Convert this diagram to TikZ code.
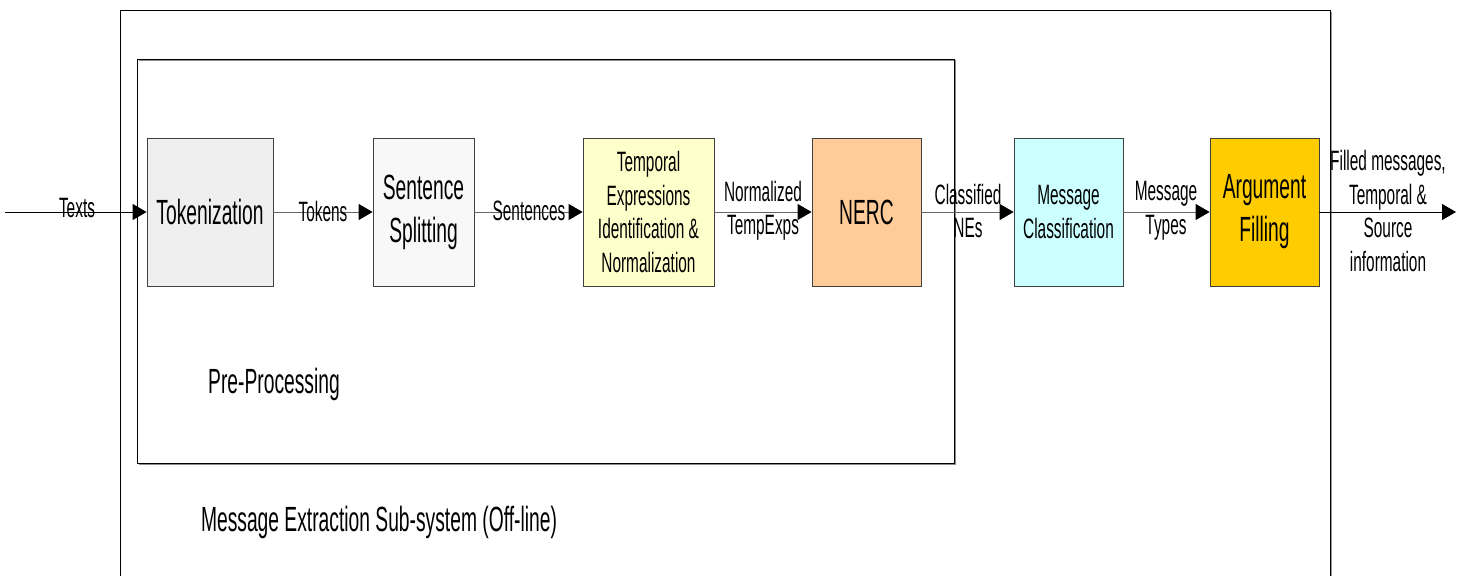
\documentclass[tikz,border=0pt]{standalone}
\usepackage{fontspec}
\setmainfont[FakeStretch=0.55]{Liberation Sans}
\usetikzlibrary{arrows.meta}
\definecolor{tokfill}{HTML}{EFEFEF}
\definecolor{senfill}{HTML}{F8F8F8}
\definecolor{tmpfill}{HTML}{FFFFCC}
\definecolor{nercfill}{HTML}{FFCC99}
\definecolor{msgfill}{HTML}{CCFFFF}
\definecolor{argfill}{HTML}{FFCC00}
\tikzset{
  procbox/.style={draw=black!75, line width=0.8pt, minimum height=148pt, inner sep=0pt, align=center},
  bigtxt/.style={font=\fontsize{35}{43}\selectfont},
  smalltxt/.style={font=\fontsize{28}{33.5}\selectfont},
  lbl/.style={smalltxt, inner sep=0pt, align=center},
  flow/.style={draw=black!60, line width=0.8pt, -{Triangle[length=14pt,width=16pt,color=black]}},
  ioflow/.style={draw=black, line width=0.9pt, -{Triangle[length=14pt,width=16pt,color=black]}},
  frame/.style={draw=black, line width=0.9pt},
}
\begin{document}
\begin{tikzpicture}[x=1pt,y=-1pt]
\useasboundingbox[fill=white] (0,0) rectangle (1467,576);
% outer frame
\draw[black!40, line width=1pt] (1331.5,11.5) -- (1331.5,576);
\draw[frame] (120,576) -- (120,10) -- (1330,10) -- (1330,576);
% inner frame
\draw[black!45, line width=1.2pt] (139,60.5) -- (955.5,60.5) -- (955.5,464.5) -- (139,464.5);
\draw[frame, line width=0.7pt] (137,59) rectangle (954,463);
\node[bigtxt, inner sep=0pt] (pre) at (274,384) {Pre-Processing};
\node[bigtxt, inner sep=0pt] (mes) at (379,522) {Message Extraction Sub-system (Off-line)};
% process boxes
\node[procbox, bigtxt, fill=tokfill, minimum width=126pt] (tok) at (210,212) {Tokenization};
\node[procbox, bigtxt, fill=senfill, minimum width=101pt] (sen) at (423.5,212) {Sentence\\Splitting};
\node[procbox, smalltxt, fill=tmpfill, minimum width=131pt] (tmp) at (648.5,212) {Temporal\\Expressions\\Identification \&\\Normalization};
\node[procbox, bigtxt, fill=nercfill, minimum width=109pt] (nerc) at (866.5,212) {NERC};
\node[procbox, smalltxt, fill=msgfill, minimum width=109pt] (msg) at (1068.5,212) {Message\\Classification};
\node[procbox, bigtxt, fill=argfill, minimum width=109pt] (arg) at (1264.5,212) {Argument\\Filling};
% connectors
\coordinate (in) at (5,212);
\coordinate (out) at (1456,212);
\draw[ioflow] (in) -- (tok.west);
\draw[flow] (tok.east) -- (sen.west);
\draw[flow] (sen.east) -- (tmp.west);
\draw[flow] (tmp.east) -- (nerc.west);
\draw[flow] (nerc.east) -- (msg.west);
\draw[flow] (msg.east) -- (arg.west);
\draw[ioflow] (arg.east) -- (out);
% labels
\node[lbl] (ltexts) at (77,208) {Texts};
\node[lbl] (ltok) at (323,211) {Tokens};
\node[lbl] (lsen) at (529,211) {Sentences};
\node[lbl] (lnorm) at (763,211) {Normalized\\TempExps};
\node[lbl] (lcls) at (968,211) {Classified\\NEs};
\node[lbl] (ltyp) at (1166,211) {Message\\Types};
\node[lbl] (lfill) at (1388,211) {Filled messages,\\Temporal \&\\Source\\information};
\end{tikzpicture}
\end{document}
